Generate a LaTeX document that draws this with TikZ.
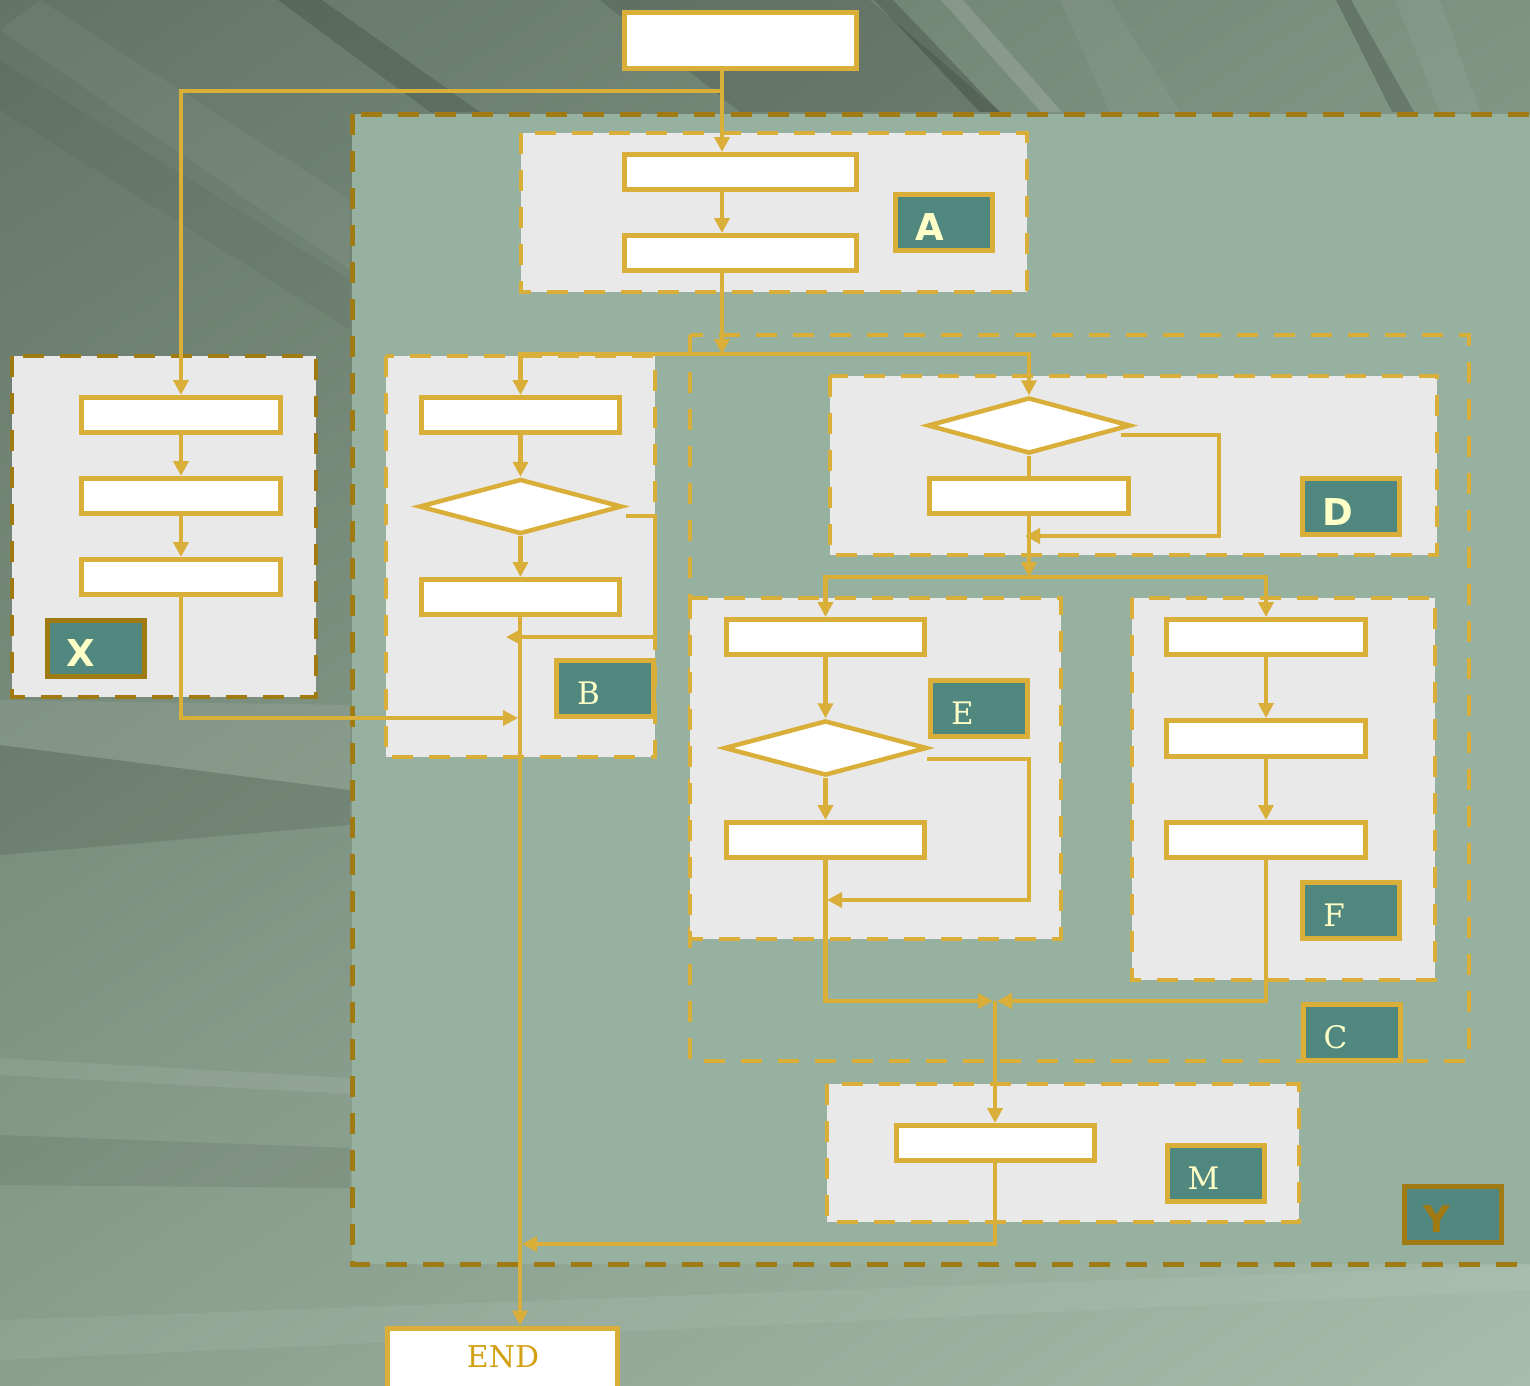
\documentclass[tikz,border=0pt]{standalone}
\usepackage{fontspec}
\setmainfont{DejaVu Serif}
\newfontfamily\labsans{DejaVu Sans}
\usetikzlibrary{shapes.geometric,arrows.meta,calc,shadings}
\definecolor{gold}{HTML}{D9AF3A}
\definecolor{dgold}{HTML}{A07A12}
\definecolor{mint}{HTML}{96B19F}
\definecolor{panelfill}{HTML}{E9E9E9}
\definecolor{labfill}{HTML}{50877F}
\definecolor{labtext}{HTML}{FFFFC8}
\definecolor{endtext}{HTML}{D2A012}
\definecolor{bgUL}{HTML}{627466}
\definecolor{bgUR}{HTML}{7E9483}
\definecolor{bgLL}{HTML}{8AA08E}
\definecolor{bgLR}{HTML}{A6BCAC}
\tikzset{
  box/.style={draw=gold, line width=5pt, fill=white, rectangle, inner sep=0pt},
  dia/.style={draw=gold, line width=4.5pt, fill=white, diamond, inner sep=0pt, aspect=3.7},
  labbox/.style={draw=gold, line width=5pt, fill=labfill, rectangle, inner sep=0pt, minimum width=97pt, minimum height=56pt},
  dlabbox/.style={labbox, draw=dgold},
  serlab/.style={text=labtext, font=\fontsize{31}{31}\selectfont, inner sep=0pt},
  sanslab/.style={text=labtext, font=\labsans\bfseries\fontsize{37}{37}\selectfont, inner sep=0pt},
  panel/.style={draw=gold, line width=4.5pt, fill=panelfill, dash pattern=on 21pt off 16pt},
  dpanel/.style={panel, draw=dgold},
  conn/.style={draw=gold, line width=4.5pt},
  arr/.style={conn, -{Triangle[length=15pt,width=15pt]}},
}
\begin{document}
\begin{tikzpicture}[x=1pt,y=-1pt]
\useasboundingbox (0,0) rectangle (1530,1385);
\clip (0,0) rectangle (1530,1385);
% background
\shade[upper left=bgUL, upper right=bgUR, lower left=bgLL, lower right=bgLR] (0,0) rectangle (1530,1385);
\fill[black, opacity=0.14] (278,0) -- (322,0) -- (480,112) -- (430,112) -- cycle;
\fill[black, opacity=0.12] (600,0) -- (870,0) -- (1000,112) -- (740,112) -- cycle;
\fill[black, opacity=0.18] (874,0) -- (893,0) -- (1000,112) -- (980,112) -- cycle;
\fill[white, opacity=0.14] (941,0) -- (963,0) -- (1062,112) -- (1041,112) -- cycle;
\fill[white, opacity=0.05] (1060,0) -- (1110,0) -- (1180,112) -- (1110,112) -- cycle;
\fill[black, opacity=0.18] (1336,0) -- (1351,0) -- (1414,112) -- (1392,112) -- cycle;
\fill[white, opacity=0.05] (1395,0) -- (1440,0) -- (1480,112) -- (1440,112) -- cycle;
\fill[white, opacity=0.05] (0,30) -- (40,0) -- (350,200) -- (350,270) -- cycle;
\fill[black, opacity=0.04] (0,60) -- (0,110) -- (350,330) -- (350,280) -- cycle;
\fill[white, opacity=0.08] (0,700) -- (350,705) -- (350,790) -- (0,745) -- cycle;
\fill[black, opacity=0.10] (0,745) -- (350,790) -- (350,825) -- (0,855) -- cycle;
\fill[white, opacity=0.08] (0,1058) -- (350,1078) -- (350,1094) -- (0,1075) -- cycle;
\fill[black, opacity=0.07] (0,1135) -- (350,1148) -- (350,1188) -- (0,1185) -- cycle;
\fill[white, opacity=0.06] (0,1320) -- (1530,1265) -- (1530,1290) -- (0,1360) -- cycle;
% big panel Y
\draw[dpanel, fill=mint, line width=5pt] (352,114) rectangle (1548,1264);
% panels
\draw[dpanel] (12,356) rectangle (316,697);
\draw[panel] (521,133) rectangle (1027,292);
\draw[panel] (386,356) rectangle (655,757);
\draw[panel, fill=none] (690,335) rectangle (1469,1061);
\draw[panel] (830,376) rectangle (1437,555);
\draw[panel] (690,598) rectangle (1061,939);
\draw[panel] (1132,598) rectangle (1435,980);
\draw[panel] (827,1084) rectangle (1299,1222);
% nodes
\node[box, minimum width=232pt, minimum height=56pt] (start) at (740.5,40.5) {};
\node[box, minimum width=232pt, minimum height=35pt] (A1) at (740.5,172) {};
\node[box, minimum width=232pt, minimum height=35pt] (A2) at (740.5,253) {};
\node[box, minimum width=199pt, minimum height=35pt] (X1) at (181,415) {};
\node[box, minimum width=199pt, minimum height=35pt] (X2) at (181,496) {};
\node[box, minimum width=199pt, minimum height=35pt] (X3) at (181,577) {};
\node[box, minimum width=198pt, minimum height=35pt] (B1) at (520.5,415) {};
\node[dia, minimum width=203pt, minimum height=55pt] (Bd) at (520.5,506.5) {};
\node[box, minimum width=198pt, minimum height=35pt] (B2) at (520.5,597) {};
\node[dia, minimum width=203pt, minimum height=56pt] (Dd) at (1029,425.5) {};
\node[box, minimum width=199pt, minimum height=35pt] (D1) at (1029,496) {};
\node[box, minimum width=198pt, minimum height=35pt] (E1) at (825.5,637) {};
\node[dia, minimum width=203pt, minimum height=55pt] (Ed) at (825.5,748) {};
\node[box, minimum width=198pt, minimum height=35pt] (E2) at (825.5,840) {};
\node[box, minimum width=199pt, minimum height=35pt] (F1) at (1266,637) {};
\node[box, minimum width=199pt, minimum height=36pt] (F2) at (1266,738.5) {};
\node[box, minimum width=199pt, minimum height=35pt] (F3) at (1266,840) {};
\node[box, minimum width=198pt, minimum height=35pt] (M1) at (995.5,1143) {};
\node[box, minimum width=230pt, minimum height=66pt] (END) at (502.5,1361) {};
\node[text=endtext, font=\fontsize{30}{30}\selectfont, inner sep=0pt] (ENDt) at (503,1357) {END};
% labels
\node[labbox] (LA) at (944,222.5) {};
\node[labbox] (LD) at (1351,506) {};
\node[dlabbox] (LX) at (96,648) {};
\node[labbox] (LB) at (604.5,688) {};
\node[labbox] (LE) at (978.5,708) {};
\node[labbox] (LF) at (1351,910.5) {};
\node[labbox] (LC) at (1351.5,1032) {};
\node[labbox] (LM) at (1215.5,1173) {};
\node[dlabbox] (LY) at (1453,1214) {};
\node[sanslab] (tA) at ($(LA.center)+(-14,5)$) {A};
\node[sanslab] (tD) at ($(LD.center)+(-13,6)$) {D};
\node[sanslab] (tX) at ($(LX.center)+(-15,5)$) {X};
\node[serlab] (tB) at ($(LB.center)+(-16,5)$) {B};
\node[serlab] (tE) at ($(LE.center)+(-16,5)$) {E};
\node[serlab] (tF) at ($(LF.center)+(-17,5)$) {F};
\node[serlab] (tC) at ($(LC.center)+(-16,5)$) {C};
\node[serlab] (tM) at ($(LM.center)+(-12,5)$) {M};
\node[sanslab, text=dgold] (tY) at ($(LY.center)+(-16,5)$) {Y};
% coordinates
\coordinate (xA) at (722,0);
\coordinate (j0) at (722,91);
\coordinate (j1) at (722,354);
\coordinate (xj) at (518,718);
\coordinate (bR) at (626,516);
\coordinate (bC) at (655,637);
\coordinate (bE) at (506,637);
\coordinate (bV) at (520,0);
\coordinate (dR) at (1121,435);
\coordinate (dC) at (1219,536);
\coordinate (dE) at (1025,536);
\coordinate (j2) at (1029,577);
\coordinate (eR) at (927,759);
\coordinate (eC) at (1029,900);
\coordinate (eE) at (827,900);
\coordinate (j3) at (995,1001);
\coordinate (j4) at (522,1244);
% connectors
\draw[arr] (start.south -| xA) -- (A1.north -| xA);
\draw[arr] (j0) -| (X1.north);
\draw[arr] (A1.south -| xA) -- (A2.north -| xA);
\draw[arr] (A2.south -| xA) -- (j1);
\draw[arr] (j1) -| (B1.north);
\draw[arr] (j1) -| (Dd.north);
\draw[arr] (X1) -- (X2);
\draw[arr] (X2) -- (X3);
\draw[arr] (X3.south) |- (xj);
\draw[arr] (B1) -- (Bd);
\draw[arr] (Bd) -- (B2);
\draw[arr] (bR) -| (bC) -- (bE);
\draw[arr] (B2.south -| bV) -- (END.north -| bV);
\draw[conn] (Dd) -- (D1);
\draw[arr] (dR) -| (dC) -- (dE);
\draw[arr] (D1.south) -- (j2);
\draw[arr] (j2) -| (E1.north);
\draw[arr] (j2) -| (F1.north);
\draw[arr] (E1) -- (Ed);
\draw[arr] (Ed) -- (E2);
\draw[arr] (eR) -| (eC) -- (eE);
\draw[arr] (E2.south) |- ($(j3)+(-2,0)$);
\draw[arr] (F1) -- (F2);
\draw[arr] (F2) -- (F3);
\draw[arr] (F3.south) |- ($(j3)+(2,0)$);
\draw[arr] (j3) -- (M1.north -| j3);
\draw[arr] (M1.south -| j3) |- (j4);
\end{tikzpicture}
\end{document}
